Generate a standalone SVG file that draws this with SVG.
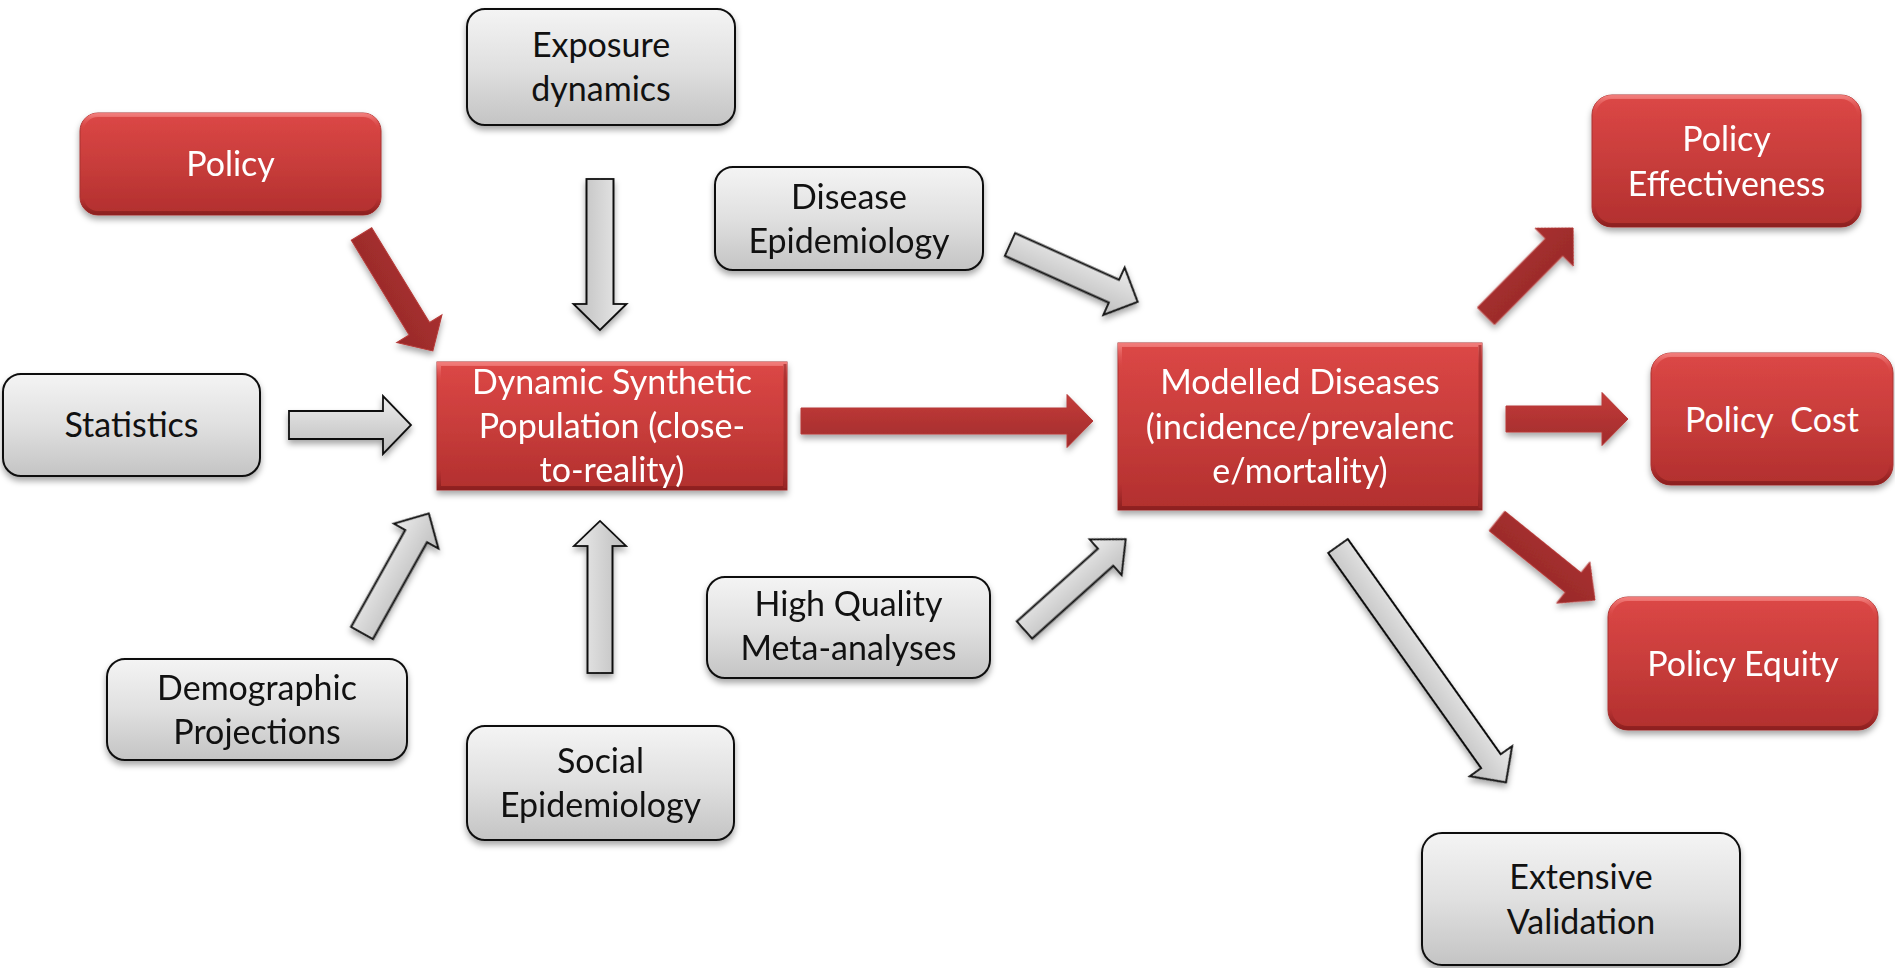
<svg xmlns="http://www.w3.org/2000/svg" width="1895" height="968" viewBox="0 0 1895 968">
  <defs>
    <linearGradient id="grayFill" x1="0" y1="0" x2="0" y2="1">
      <stop offset="0" stop-color="#f4f4f4"/>
      <stop offset="0.5" stop-color="#e0e0e0"/>
      <stop offset="1" stop-color="#c4c4c4"/>
    </linearGradient>
    <linearGradient id="grayArrow" x1="0" y1="0" x2="0" y2="1">
      <stop offset="0" stop-color="#ececec"/>
      <stop offset="1" stop-color="#bdbdbd"/>
    </linearGradient>
    <linearGradient id="redFill" x1="0" y1="0" x2="0" y2="1">
      <stop offset="0" stop-color="#dc4746"/>
      <stop offset="0.5" stop-color="#c83d3b"/>
      <stop offset="1" stop-color="#b22f2e"/>
    </linearGradient>
    <linearGradient id="redEdge" x1="0" y1="0" x2="0" y2="1">
      <stop offset="0" stop-color="#f07a78"/>
      <stop offset="0.15" stop-color="#d84644" stop-opacity="0"/>
      <stop offset="0.85" stop-color="#9a2424" stop-opacity="0"/>
      <stop offset="1" stop-color="#8e2020"/>
    </linearGradient>
    <linearGradient id="redArrow" x1="0" y1="0" x2="0" y2="1">
      <stop offset="0" stop-color="#c43c3a"/>
      <stop offset="1" stop-color="#a02b2b"/>
    </linearGradient>
    <linearGradient id="redArrowDark" x1="0" y1="0" x2="0" y2="1">
      <stop offset="0" stop-color="#a8302f"/>
      <stop offset="1" stop-color="#982a2a"/>
    </linearGradient>
    <filter id="shadow" x="-10%" y="-10%" width="120%" height="130%">
      <feDropShadow dx="0" dy="4" stdDeviation="3" flood-color="#000" flood-opacity="0.35"/>
    </filter>
  </defs>
  <style>
    .box-gray { fill: url(#grayFill); stroke: #111; stroke-width: 2; }
    .box-red { fill: url(#redFill); stroke: #a83230; stroke-width: 1; }
    .bevel { fill: none; stroke: url(#redEdge); stroke-width: 4; }
    .bevel-side { fill: none; stroke: #9c2a29; stroke-width: 3; stroke-opacity: 0.7; }
    .arrow-gray { fill: url(#grayArrow); stroke: #111; stroke-width: 1.8; stroke-linejoin: miter; }
    .arrow-red { fill: url(#redArrow); stroke: #b63a38; stroke-width: 1; }
    .arrow-red-dark { fill: url(#redArrowDark); stroke: #b63a38; stroke-width: 1; }
    text { font-family: Lato, "Open Sans", "Liberation Sans", sans-serif; font-size: 34px; text-anchor: middle; }
    .dark { fill: #111; }
    .light { fill: #fff; }
  </style>

  <!-- connectors: block arrows drawn pointing right, then placed with translate/rotate -->
  <g id="connectors" filter="url(#shadow)">
    <polygon id="policy-to-population" class="arrow-red-dark" transform="translate(361.5,234) rotate(58.6)" points="0,-12 111,-12 111,-26.5 137,0 111,26.5 111,12 0,12"/>
    <polygon id="statistics-to-population" class="arrow-gray" transform="translate(289,425)" points="0,-14 94,-14 94,-29 122,0 94,29 94,14 0,14"/>
    <polygon id="demographic-to-population" class="arrow-gray" transform="translate(362,633) rotate(-60.8)" points="0,-12.5 111,-12.5 111,-25.5 137,0 111,25.5 111,12.5 0,12.5"/>
    <polygon id="exposure-to-population" class="arrow-gray" transform="translate(600,179) rotate(90)" points="0,-13.5 125,-13.5 125,-26.5 151,0 125,26.5 125,13.5 0,13.5"/>
    <polygon id="social-to-population" class="arrow-gray" transform="translate(600,673) rotate(-90)" points="0,-12.5 127,-12.5 127,-26 152,0 127,26 127,12.5 0,12.5"/>
    <polygon id="population-to-diseases" class="arrow-red" transform="translate(801,421)" points="0,-13 266,-13 266,-26.5 292,0 266,26.5 266,13 0,13"/>
    <polygon id="disease-epi-to-diseases" class="arrow-gray" transform="translate(1010,244.5) rotate(24.2)" points="0,-12.5 114,-12.5 114,-26 140,0 114,26 114,12.5 0,12.5"/>
    <polygon id="meta-to-diseases" class="arrow-gray" transform="translate(1024.5,630) rotate(-41.9)" points="0,-11.5 109,-11.5 109,-24 136,0 109,24 109,11.5 0,11.5"/>
    <polygon id="diseases-to-effectiveness" class="arrow-red-dark" transform="translate(1486,316) rotate(-45.3)" points="0,-12 97,-12 97,-27 124,0 97,27 97,12 0,12"/>
    <polygon id="diseases-to-cost" class="arrow-red" transform="translate(1506,419)" points="0,-13 96,-13 96,-26.5 122,0 96,26.5 96,13 0,13"/>
    <polygon id="diseases-to-equity" class="arrow-red-dark" transform="translate(1497,521) rotate(38.9)" points="0,-12.5 98,-12.5 98,-26.5 126,0 98,26.5 98,12.5 0,12.5"/>
    <polygon id="diseases-to-validation" class="arrow-gray" transform="translate(1338,546) rotate(54.6)" points="0,-12 264,-12 264,-26 290,0 264,26 264,12 0,12"/>
  </g>

  <!-- input nodes -->
  <g id="policy">
    <rect class="box-red" x="80" y="113" width="301" height="102" rx="18" filter="url(#shadow)"/>
    <rect class="bevel" x="82" y="115" width="297" height="98" rx="16"/>
    <text class="light" x="230.5" y="176">Policy</text>
  </g>
  <g id="statistics">
    <rect class="box-gray" x="3" y="374" width="257" height="102" rx="18" filter="url(#shadow)"/>
    <text class="dark" x="131.5" y="437">Statistics</text>
  </g>
  <g id="demographic-projections">
    <rect class="box-gray" x="107" y="659" width="300" height="101" rx="18" filter="url(#shadow)"/>
    <text class="dark" x="257" y="699.5">Demographic</text>
    <text class="dark" x="257" y="743.5">Projections</text>
  </g>
  <g id="exposure-dynamics">
    <rect class="box-gray" x="467" y="9" width="268" height="116" rx="18" filter="url(#shadow)"/>
    <text class="dark" x="601" y="57">Exposure</text>
    <text class="dark" x="601" y="101">dynamics</text>
  </g>
  <g id="social-epidemiology">
    <rect class="box-gray" x="467" y="726" width="267" height="114" rx="18" filter="url(#shadow)"/>
    <text class="dark" x="600.5" y="773">Social</text>
    <text class="dark" x="600.5" y="817">Epidemiology</text>
  </g>
  <g id="disease-epidemiology">
    <rect class="box-gray" x="715" y="167" width="268" height="103" rx="18" filter="url(#shadow)"/>
    <text class="dark" x="849" y="208.5">Disease</text>
    <text class="dark" x="849" y="252.5">Epidemiology</text>
  </g>
  <g id="meta-analyses">
    <rect class="box-gray" x="707" y="577" width="283" height="101" rx="18" filter="url(#shadow)"/>
    <text class="dark" x="848.5" y="616">High Quality</text>
    <text class="dark" x="848.5" y="660">Meta-analyses</text>
  </g>

  <!-- core model nodes -->
  <g id="synthetic-population">
    <rect class="box-red" x="437" y="362" width="350" height="128" filter="url(#shadow)"/>
    <rect class="bevel" x="439" y="364" width="346" height="124"/>
    <line class="bevel-side" x1="785" y1="364" x2="785" y2="488"/>
    <text class="light" x="612" y="394">Dynamic Synthetic</text>
    <text class="light" x="612" y="438">Population (close-</text>
    <text class="light" x="612" y="482">to-reality)</text>
  </g>
  <g id="modelled-diseases">
    <rect class="box-red" x="1118" y="343" width="364" height="167" filter="url(#shadow)"/>
    <rect class="bevel" x="1120" y="345" width="360" height="163"/>
    <line class="bevel-side" x1="1480" y1="345" x2="1480" y2="508"/>
    <text class="light" x="1300" y="394">Modelled Diseases</text>
    <text class="light" x="1300" y="439">(incidence/prevalenc</text>
    <text class="light" x="1300" y="483">e/mortality)</text>
  </g>

  <!-- outcome nodes -->
  <g id="policy-effectiveness">
    <rect class="box-red" x="1592" y="95" width="269" height="132" rx="20" filter="url(#shadow)"/>
    <rect class="bevel" x="1594" y="97" width="265" height="128" rx="18"/>
    <text class="light" x="1726.5" y="151">Policy</text>
    <text class="light" x="1726.5" y="196">Effectiveness</text>
  </g>
  <g id="policy-cost">
    <rect class="box-red" x="1651" y="353" width="242" height="132" rx="20" filter="url(#shadow)"/>
    <rect class="bevel" x="1653" y="355" width="238" height="128" rx="18"/>
    <text class="light" x="1772" y="432" xml:space="preserve">Policy  Cost</text>
  </g>
  <g id="policy-equity">
    <rect class="box-red" x="1608" y="597" width="270" height="133" rx="20" filter="url(#shadow)"/>
    <rect class="bevel" x="1610" y="599" width="266" height="129" rx="18"/>
    <text class="light" x="1743" y="676">Policy Equity</text>
  </g>
  <g id="extensive-validation">
    <rect class="box-gray" x="1422" y="833" width="318" height="132" rx="20" filter="url(#shadow)"/>
    <text class="dark" x="1581" y="889">Extensive</text>
    <text class="dark" x="1581" y="934">Validation</text>
  </g>
</svg>
